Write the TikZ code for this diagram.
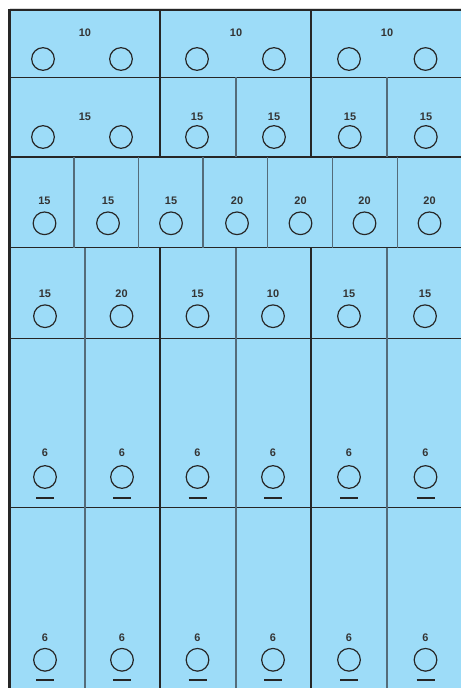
\documentclass[tikz,border=0pt]{standalone}
\usepackage{fontspec}
\setmainfont{Liberation Sans}
\definecolor{panelblue}{RGB}{157,220,248}
\definecolor{railgray}{RGB}{38,38,38}
\definecolor{splitgray}{RGB}{84,108,122}
\definecolor{ampgray}{RGB}{52,52,52}
\tikzset{
  frame/.style={line width=1.8pt, railgray},
  major/.style={line width=1pt, railgray},
  minor/.style={line width=0.8pt, splitgray},
  socket/.style={line width=0.9pt, railgray},
  amp/.style={font=\bfseries\fontsize{8.2}{9}\selectfont, text=ampgray, inner sep=0pt},
  bar/.style={line width=1.6pt, railgray},
}
\begin{document}
\begin{tikzpicture}[x=0.75pt, y=-0.75pt]
    \useasboundingbox (0,0) rectangle (461,688);
    % Panel background
    \fill[panelblue] (9.5,10) rectangle (461,688);
    \draw[gray!30, line width=0.5pt] (9.5,8.3) -- (461,8.3);

    % Horizontal rails between rows
    \foreach \y in {77.5, 157, 247.5, 338.5, 507.5} {
        \draw[major] (9.5,\y) -- (461,\y);
    }

    % Row 1: three double breakers
    \foreach \x in {160, 311} {
        \draw[major] (\x,10) -- (\x,77.5);
    }
    \foreach \x/\n in {85/a, 236/b, 387/c} {
        \node[amp] (top-\n) at (\x,33) {10};
    }
    \foreach \x in {43, 121, 197, 274, 349, 425.5} {
        \draw[socket] (\x,59) circle[radius=8.5pt];
    }

    % Row 2: one double and four single
    \foreach \x in {160, 311} {
        \draw[major] (\x,77.5) -- (\x,157);
    }
    \foreach \x in {236, 387} {
        \draw[minor] (\x,77.5) -- (\x,157);
    }
    \node[amp] (two-a) at (85,116.3) {15};
    \foreach \x/\n in {197/b, 274/c, 350/d, 426/e} {
        \node[amp] (two-\n) at (\x,116.3) {15};
    }
    \foreach \x in {43, 121, 197, 274, 349.8, 425.8} {
        \draw[socket] (\x,137) circle[radius=8.5pt];
    }

    % Row 3: seven narrow breakers
    \foreach \x in {74, 138.5, 203, 267.5, 332.5, 397.5} {
        \draw[minor] (\x,157) -- (\x,247.5);
    }
    \foreach \x/\v/\n in {44.5/15/a, 108/15/b, 171/15/c, 237/20/d, 300.5/20/e, 364.5/20/f, 429.5/20/g} {
        \node[amp] (three-\n) at (\x,201) {\v};
        \draw[socket] (\x,223.3) circle[radius=8.5pt];
    }

    % Rows 4 to 6: six breakers each
    \foreach \top/\bot in {247.5/338.5, 338.5/507.5, 507.5/688} {
        \foreach \x in {160, 311} {
            \draw[major] (\x,\top) -- (\x,\bot);
        }
        \foreach \x in {85, 236, 387} {
            \draw[minor] (\x,\top) -- (\x,\bot);
        }
    }
    \foreach \x/\v/\n in {45/15/a, 121.5/20/b, 197.5/15/c, 273/10/d, 349/15/e, 425/15/f} {
        \node[amp] (four-\n) at (\x,294) {\v};
        \draw[socket] (\x,316.2) circle[radius=8.5pt];
    }
    \foreach \x/\n in {45/a, 122/b, 197.5/c, 273/d, 349/e, 425.5/f} {
        \node[amp] (five-\n) at (\x,453) {6};
        \draw[socket] (\x,477) circle[radius=8.5pt];
        \draw[bar] (\x-9,497.7) -- (\x+9,497.7);
        \node[amp] (six-\n) at (\x,637.5) {6};
        \draw[socket] (\x,659.8) circle[radius=8.5pt];
        \draw[bar] (\x-9,680) -- (\x+9,680);
    }

    % Outer frame (top and left edges)
    \draw[frame] (461,10) -- (9.5,10) -- (9.5,688);
\end{tikzpicture}
\end{document}
